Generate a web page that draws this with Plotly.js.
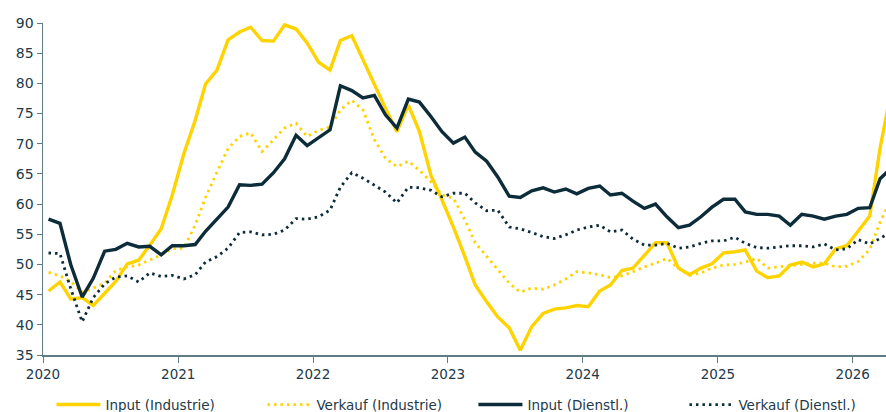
<!DOCTYPE html>
<html>
<head>
<meta charset="utf-8">
<script src="https://cdn.plot.ly/plotly-3.0.1.min.js"></script>
<style>html,body{margin:0;padding:0;background:#fff;}#chart{width:886px;height:412px;}</style>
</head>
<body>
<div id="chart"></div>
<script>
// Monthly observations, Jan 2020 .. Apr 2026
const startYear = 2020, startMonth = 1, nMonths = 76;
const seriesNames = ["Input (Industrie)", "Verkauf (Industrie)", "Input (Dienstl.)", "Verkauf (Dienstl.)"];
const yearTicks = ["2020","2021","2022","2023","2024","2025","2026"];

const inputIndustrie = [45.6,47.1,44.3,44.5,43.2,45.2,47.2,50.1,50.7,53.2,55.9,61.5,
  68.3,73.9,79.9,82.2,87.2,88.5,89.3,87.1,87.0,89.7,89.0,86.7,
  83.5,82.2,87.1,87.9,83.9,80.0,75.9,72.0,76.4,72.0,64.8,60.7,
  56.2,51.3,46.6,43.8,41.3,39.5,35.8,39.7,41.9,42.6,42.8,43.2,
  43.0,45.6,46.6,49.0,49.4,51.5,53.6,53.6,49.4,48.3,49.4,50.1,
  51.9,52.1,52.4,48.9,47.8,48.1,49.9,50.4,49.6,50.1,52.6,53.1,
  55.5,58.0,69.3,79.0];
const verkaufIndustrie = [48.7,48.1,47.2,45.4,46.1,46.9,49.0,49.6,49.9,50.7,51.6,52.6,
  52.7,56.5,61.1,65.3,69.2,71.2,71.8,68.7,70.7,72.6,73.4,71.2,
  72.2,72.8,75.6,77.2,75.6,70.7,67.6,66.2,67.1,65.6,63.7,61.5,
  61.0,57.4,53.6,51.3,49.1,46.9,45.4,46.1,45.9,46.6,47.6,48.8,
  48.6,48.3,47.8,48.1,48.8,49.6,50.2,51.0,49.4,48.2,48.6,49.4,
  49.9,50.0,50.4,51.0,49.4,49.6,49.9,50.0,50.2,50.2,49.6,49.7,
  50.5,52.5,57.0,61.0];
const inputDienstl = [57.5,56.8,50.0,44.6,47.7,52.2,52.5,53.5,52.9,53.0,51.6,53.1,
  53.1,53.3,55.5,57.5,59.5,63.2,63.1,63.3,65.2,67.5,71.4,69.7,
  71.0,72.3,79.6,78.8,77.6,78.0,74.8,72.6,77.4,76.9,74.5,72.0,
  70.1,71.1,68.6,67.1,64.5,61.3,61.1,62.2,62.7,62.0,62.5,61.7,
  62.6,63.0,61.5,61.8,60.5,59.3,60.0,57.9,56.1,56.5,57.9,59.5,
  60.8,60.8,58.7,58.3,58.3,58.0,56.5,58.3,58.0,57.5,58.0,58.3,
  59.3,59.4,64.2,66.0];
const verkaufDienstl = [51.9,51.8,46.0,40.5,44.5,46.8,47.9,48.1,47.1,48.6,48.0,48.2,
  47.6,48.3,50.4,51.3,52.7,55.3,55.4,54.9,55.0,55.7,57.6,57.5,
  57.9,59.0,62.8,65.2,64.3,63.2,62.0,60.2,62.8,62.7,62.3,61.2,
  61.8,61.8,60.2,58.9,59.0,56.2,55.9,55.3,54.6,54.3,54.9,55.7,
  56.2,56.5,55.4,55.7,54.2,53.2,53.2,53.5,52.7,52.9,53.5,53.9,
  53.9,54.5,53.5,52.8,52.7,52.9,53.1,53.1,52.9,53.4,52.4,52.6,
  54.1,53.4,54.3,55.5];

// mid-month dates
const months = [];
for (let i = 0; i < nMonths; i++) {
  const y = startYear + Math.floor((startMonth - 1 + i) / 12);
  const m = ((startMonth - 1 + i) % 12) + 1;
  months.push(y + "-" + String(m).padStart(2, "0") + "-16");
}

const YELLOW = "#FFD300";
const DARK = "#0C2C3A";
const TEXT = "#22394A";
const AXIS = "#5E7C84";

const traces = [
  {x: months, y: inputIndustrie, name: seriesNames[0], mode: "lines",
   line: {color: YELLOW, width: 3.4}},
  {x: months, y: verkaufIndustrie, name: seriesNames[1], mode: "lines",
   line: {color: YELLOW, width: 2.8, dash: "2.5px,4px"}},
  {x: months, y: inputDienstl, name: seriesNames[2], mode: "lines",
   line: {color: DARK, width: 3.4}},
  {x: months, y: verkaufDienstl, name: seriesNames[3], mode: "lines",
   line: {color: DARK, width: 2.8, dash: "2.5px,4px"}}
];

const layout = {
  width: 886, height: 412,
  margin: {l: 43, r: 0, t: 23, b: 57, autoexpand: false},
  paper_bgcolor: "#fff", plot_bgcolor: "#fff",
  font: {family: "DejaVu Sans, Liberation Sans, Arial, sans-serif", color: TEXT, size: 13},
  showlegend: true,
  legend: {orientation: "h", x: 0.010, xanchor: "left", y: -0.15, yanchor: "middle",
    font: {size: 13.5, color: TEXT}, itemwidth: 44, traceorder: "normal",
    entrywidth: 152, entrywidthmode: "pixels"},
  xaxis: {
    type: "date",
    range: ["2020-01-01", "2026-04-01"],
    tickvals: yearTicks.map(y => y + "-01-01"),
    ticktext: yearTicks,
    ticks: "outside", ticklen: 6, tickcolor: AXIS, tickwidth: 1,
    showline: true, linecolor: AXIS, linewidth: 1.5,
    showgrid: false, zeroline: false,
    tickfont: {size: 13.5, color: TEXT}
  },
  yaxis: {
    range: [35, 90],
    tick0: 35, dtick: 5,
    ticks: "outside", ticklen: 5, tickcolor: AXIS, tickwidth: 1,
    showline: true, linecolor: AXIS, linewidth: 1.5,
    showgrid: false, zeroline: false,
    tickfont: {size: 14, color: TEXT}
  }
};

Plotly.newPlot("chart", traces, layout, {displayModeBar: false, staticPlot: true});
</script>
</body>
</html>
